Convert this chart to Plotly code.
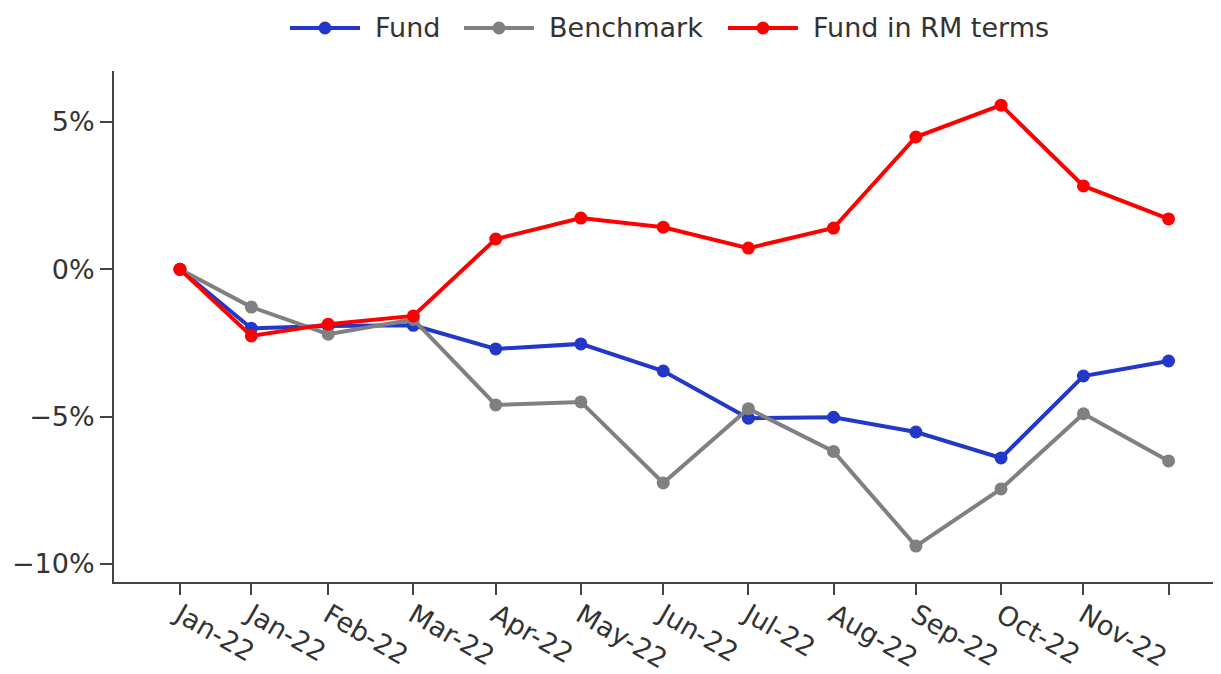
import plotly.graph_objects as go

dates = ["2022-01-05", "2022-01-31", "2022-02-28", "2022-03-31", "2022-04-30",
         "2022-05-31", "2022-06-30", "2022-07-31", "2022-08-31", "2022-09-30",
         "2022-10-31", "2022-11-30", "2022-12-31"]
tick_labels = ["Jan-22", "Jan-22", "Feb-22", "Mar-22", "Apr-22", "May-22", "Jun-22",
               "Jul-22", "Aug-22", "Sep-22", "Oct-22", "Nov-22", ""]

fund = [0.0, -2.0, -1.92, -1.90, -2.70, -2.53, -3.45, -5.05, -5.02, -5.52, -6.40, -3.62, -3.11]
benchmark = [0.0, -1.28, -2.20, -1.70, -4.60, -4.50, -7.25, -4.73, -6.18, -9.39, -7.45, -4.90, -6.50]
fund_rm = [0.0, -2.26, -1.86, -1.58, 1.03, 1.74, 1.43, 0.72, 1.40, 4.49, 5.57, 2.83, 1.71]

y_ticks = [-10, -5, 0, 5]
y_tick_labels = ["\u221210%", "\u22125%", "0%", "5%"]

series_names = ["Fund", "Benchmark", "Fund in RM terms"]
series_values = [fund, benchmark, fund_rm]
series_colors = ["#2338c9", "#808080", "#ff0000"]

# the page body adds an 8px offset, so the figure is sized to fit the window
OFF = 8
W, H = 1221 - OFF, 674 - OFF
ML, MT = 114 - OFF, 71 - OFF
PW, PH = 1104, 511
MR, MB = W - ML - PW, H - MT - PH


def px_x(p):
    return (p - OFF - ML) / PW


def px_y(p):
    return (MT + PH - (p - OFF)) / PH


fig = go.Figure()
for name, vals, color in zip(series_names, series_values, series_colors):
    fig.add_trace(go.Scatter(
        x=dates, y=vals, name=name, mode="lines+markers",
        line=dict(color=color, width=4),
        marker=dict(color=color, size=13),
        showlegend=False,
    ))

axis_color = "#444444"
font_color = "#333333"

# custom legend (line sample + marker + label), positioned in page pixels
legend_line_starts = [290, 464, 728]
legend_line_len = 70
legend_text_gap = 13
legend_y = 28
shapes = []
annotations = []
for name, color, x0 in zip(series_names, series_colors, legend_line_starts):
    shapes.append(dict(type="line", xref="paper", yref="paper",
                       x0=px_x(x0), x1=px_x(x0 + legend_line_len),
                       y0=px_y(legend_y), y1=px_y(legend_y),
                       line=dict(color=color, width=4)))
    cx = x0 + legend_line_len / 2
    shapes.append(dict(type="circle", xref="paper", yref="paper",
                       xsizemode="pixel", ysizemode="pixel",
                       xanchor=px_x(cx), yanchor=px_y(legend_y),
                       x0=-6.5, x1=6.5, y0=-6.5, y1=6.5,
                       fillcolor=color, line=dict(color=color, width=0)))
    annotations.append(dict(text=name, xref="paper", yref="paper",
                            x=px_x(x0 + legend_line_len + legend_text_gap),
                            y=px_y(legend_y), xanchor="left", yanchor="middle",
                            showarrow=False,
                            font=dict(size=27, color=font_color, family="DejaVu Sans")))

fig.update_layout(
    width=W, height=H,
    margin=dict(l=ML, r=MR, t=MT, b=MB, autoexpand=False),
    plot_bgcolor="white", paper_bgcolor="white",
    font=dict(family="DejaVu Sans", size=27, color=font_color),
    showlegend=False,
    shapes=shapes,
    annotations=annotations,
    xaxis=dict(
        type="date",
        range=["2021-12-12", "2023-01-18"],
        tickmode="array", tickvals=dates, ticktext=tick_labels,
        tickangle=30,
        ticklabelstandoff=-6,
        automargin=False,
        showgrid=False, zeroline=False,
        showline=True, linecolor=axis_color, linewidth=2,
        ticks="outside", ticklen=11, tickwidth=2, tickcolor=axis_color,
        tickfont=dict(size=27, color=font_color),
    ),
    yaxis=dict(
        range=[-10.61, 6.73],
        tickmode="array", tickvals=y_ticks, ticktext=y_tick_labels,
        automargin=False,
        showgrid=False, zeroline=False,
        showline=True, linecolor=axis_color, linewidth=2,
        ticks="outside", ticklen=12, tickwidth=2, tickcolor=axis_color,
        tickfont=dict(size=27, color=font_color),
    ),
)

fig.write_html("out.html")
